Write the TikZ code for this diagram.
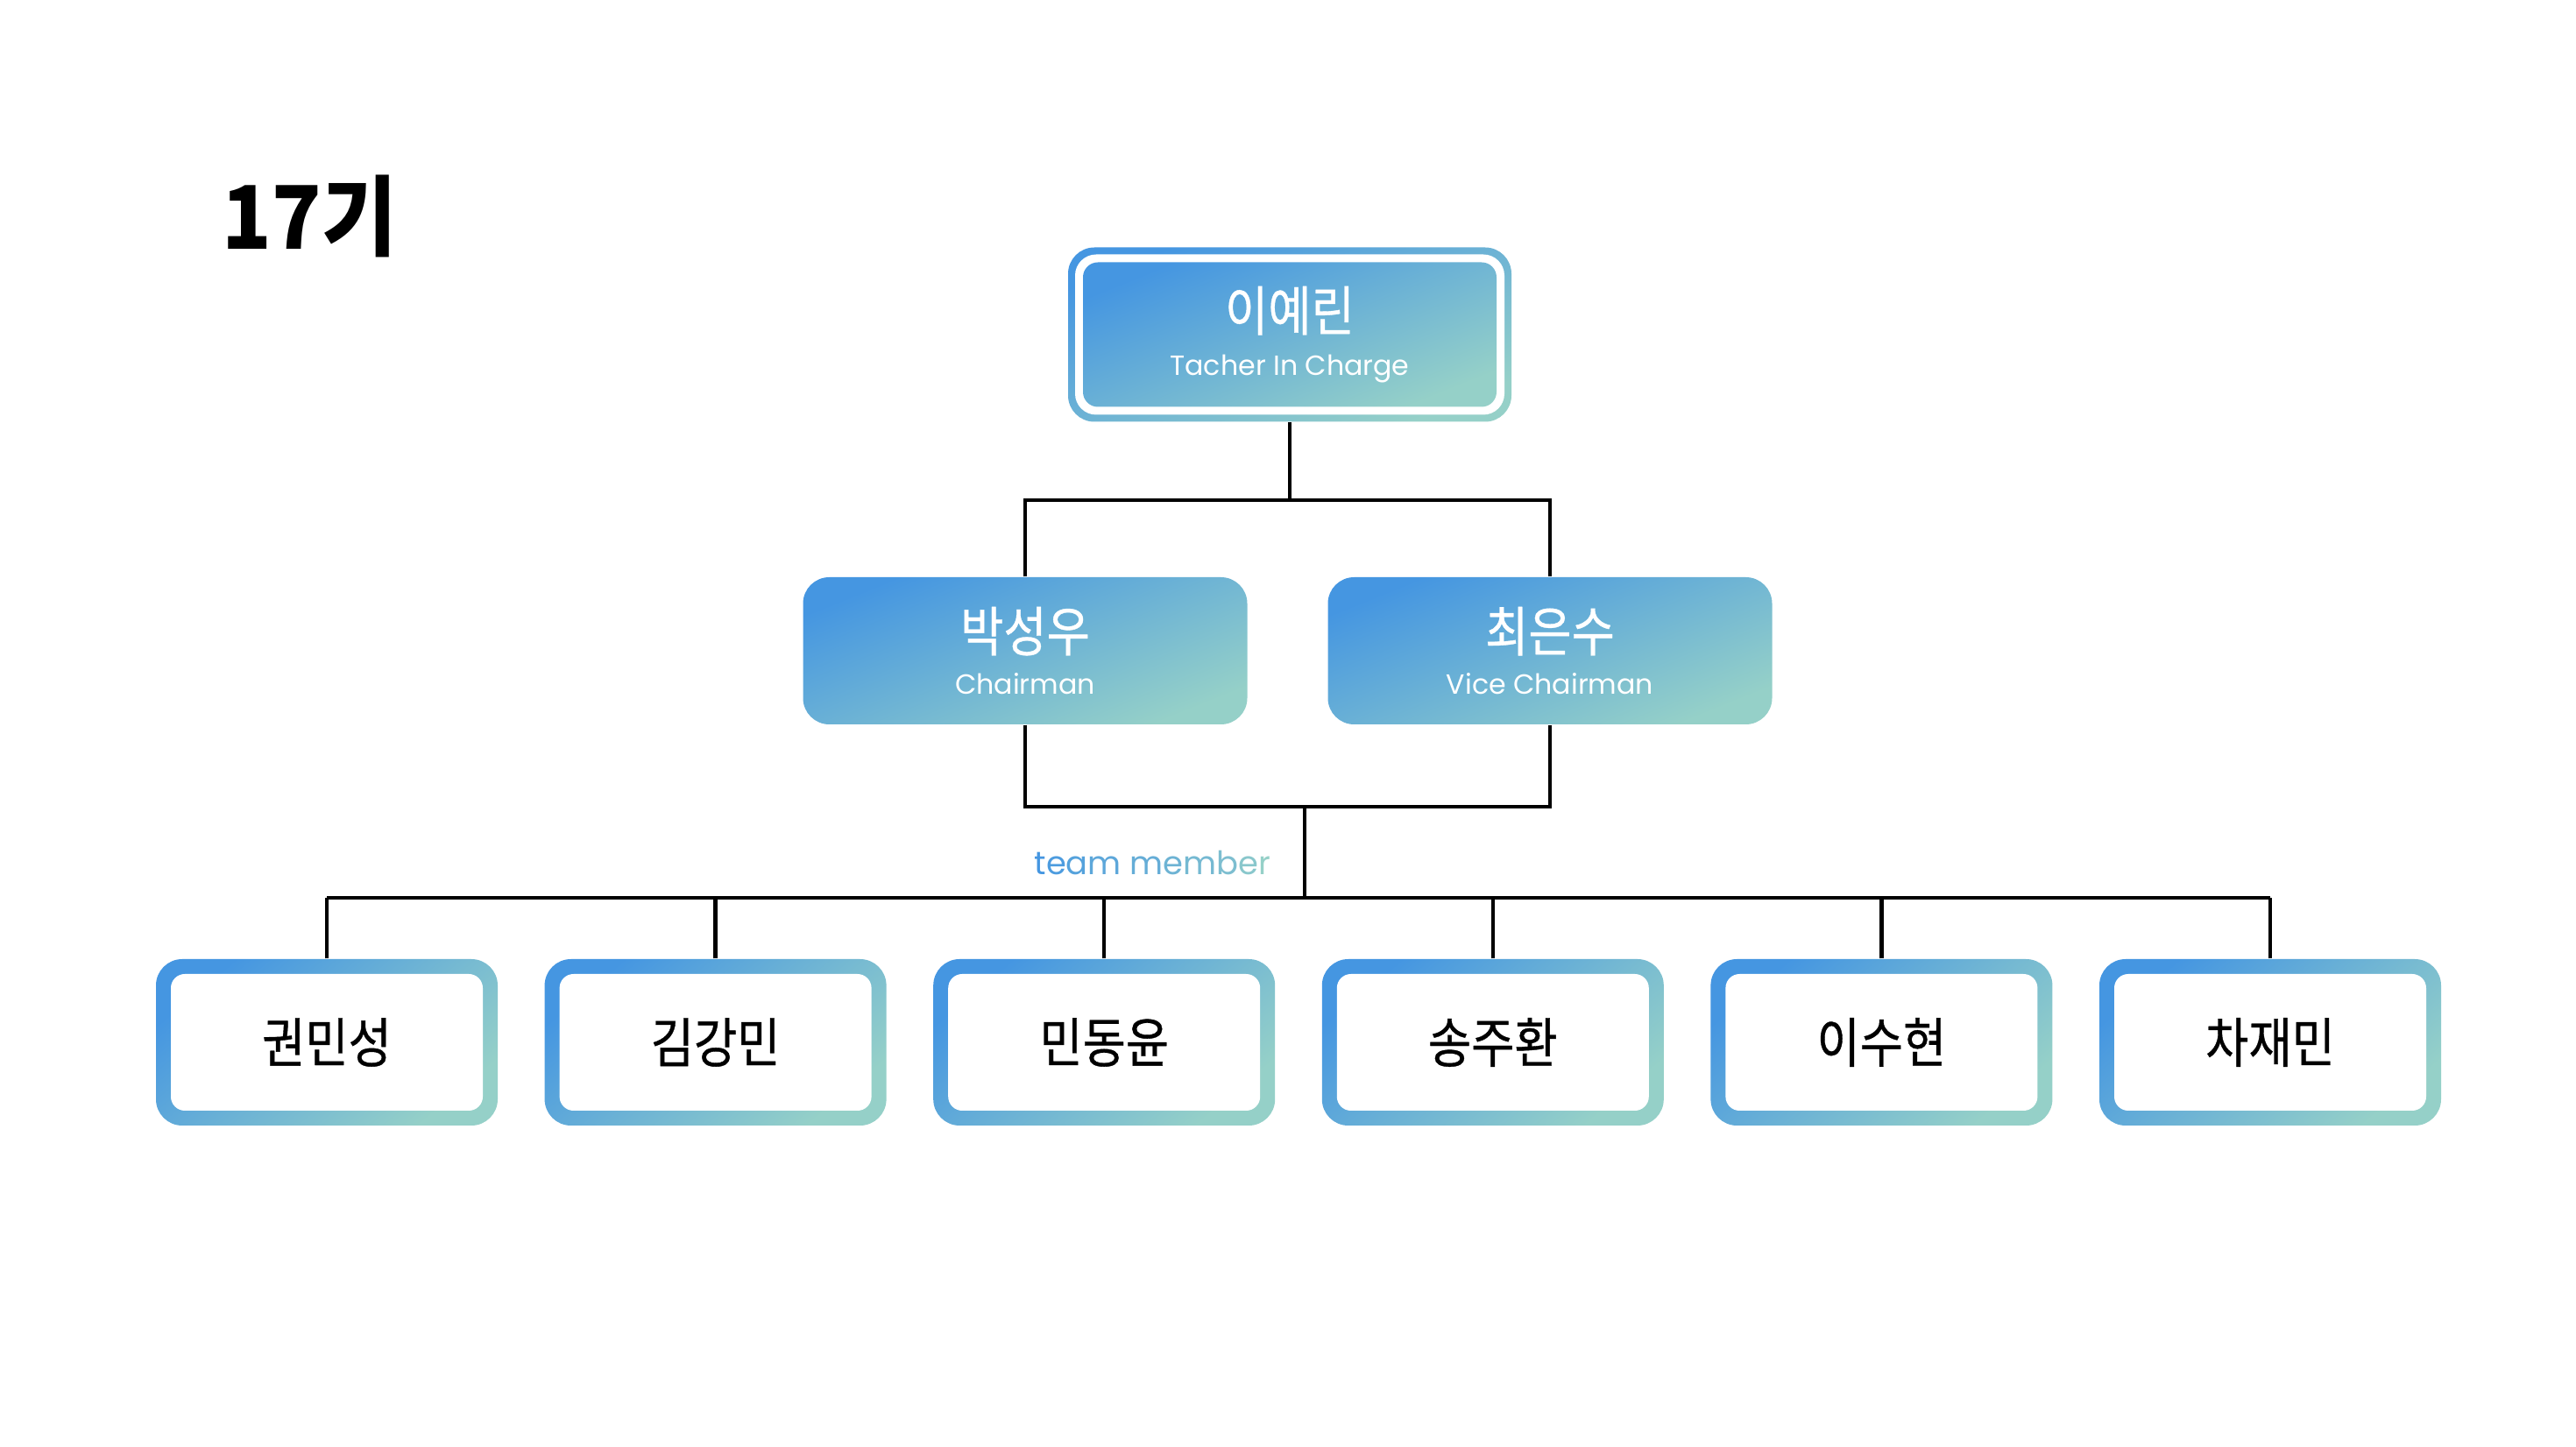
\documentclass[tikz,border=0pt]{standalone}
\usepackage{fontspec}
\setmainfont{Poppins}
\newfontfamily\krfont[FakeStretch=0.87, FakeBold=0.6]{Noto Sans CJK KR}
\newfontfamily\krtitle[FakeStretch=0.93]{Noto Sans CJK KR}
\usetikzlibrary{positioning}

\definecolor{gradA}{HTML}{4596E1}
\definecolor{gradB}{HTML}{95D0C8}

\tikzset{
  grad/.style={top color=gradA, bottom color=gradB, shading angle=22},
  tree/.style={draw=black, line width=1.2pt, line join=miter},
  head/.style={grad, rounded corners=0.3cm, minimum width=5.07cm, minimum height=1.68cm,
    inner sep=0pt, align=center, text=white},
  boss/.style={head, minimum width=5.06cm, minimum height=1.99cm,
    path picture={
      \fill[white, rounded corners=0.24cm]
        ([shift={(0.08,0.08)}]path picture bounding box.south west) rectangle
        ([shift={(-0.08,-0.08)}]path picture bounding box.north east);
      \shade[grad, rounded corners=0.17cm]
        ([shift={(0.17,0.17)}]path picture bounding box.south west) rectangle
        ([shift={(-0.17,-0.17)}]path picture bounding box.north east);
    }},
  member/.style={grad, shading angle=40, rounded corners=0.3cm, minimum width=3.9cm, minimum height=1.9cm,
    inner sep=0pt, text=black, font=\krfont\fontsize{17.5}{19}\selectfont,
    path picture={
      \fill[white, rounded corners=0.16cm]
        ([shift={(0.17,0.17)}]path picture bounding box.south west) rectangle
        ([shift={(-0.17,-0.17)}]path picture bounding box.north east);
    }},
}

\newcommand\rolefont{\fontsize{9}{11}\selectfont}
\newcommand\leadfont{\krfont\fontsize{17.5}{19}\selectfont}

\begin{document}
\begin{tikzpicture}
  \useasboundingbox (0,0) rectangle (29.4,-16.52);
  \fill[white] (0,0) rectangle (29.4,-16.52);

  % title
  \node[anchor=base west, inner sep=0pt, font=\krtitle\bfseries\fontsize{28.5}{30}\selectfont] (title) at (2.53,-2.85) {17기};

  % leaders
  \node[boss] (boss) at (14.72,-3.82) {{\leadfont 이예린}\\[2.5pt]{\rolefont Tacher In Charge}};
  \node[head] (chair) at (11.70,-7.43) {{\leadfont 박성우}\\[2pt]{\rolefont Chairman}};
  \node[head] (vice) at (17.69,-7.43) {{\leadfont 최은수}\\[2pt]{\rolefont Vice Chairman}};

  % team members
  \foreach \who [count=\i] in {권민성,김강민,민동윤,송주환,이수현,차재민}
    \node[member] (m\i) at ({3.73+4.436*(\i-1)},-11.9) {\who};

  % connectors
  \coordinate (split) at ([yshift=-0.89cm]boss.south);
  \draw[tree] (boss.south) -- (split);
  \draw[tree] (chair.north) -- (chair.north |- split) -- (vice.north |- split) -- (vice.north);
  \coordinate (join) at (14.89,-9.21);
  \draw[tree] (chair.south) -- (chair.south |- join) -- (vice.south |- join) -- (vice.south);
  \coordinate (bus) at (14.89,-10.25);
  \draw[tree] (join) -- (bus);
  \draw[tree] (m1.north |- bus) -- (m6.north |- bus);
  \foreach \i in {1,...,6}
    \draw[tree] (m\i.north) -- (m\i.north |- bus);

  \node[anchor=base east, inner sep=0pt, font=\fontsize{10.5}{12}\selectfont] (team) at ([xshift=-0.38cm, yshift=0.26cm]bus)
    {{\color{gradA}t}{\color{gradA!90!gradB}e}{\color{gradA!80!gradB}a}{\color{gradA!70!gradB}m} {\color{gradA!60!gradB}m}{\color{gradA!50!gradB}e}{\color{gradA!40!gradB}m}{\color{gradA!30!gradB}b}{\color{gradA!15!gradB}e}{\color{gradB}r}};
\end{tikzpicture}
\end{document}
